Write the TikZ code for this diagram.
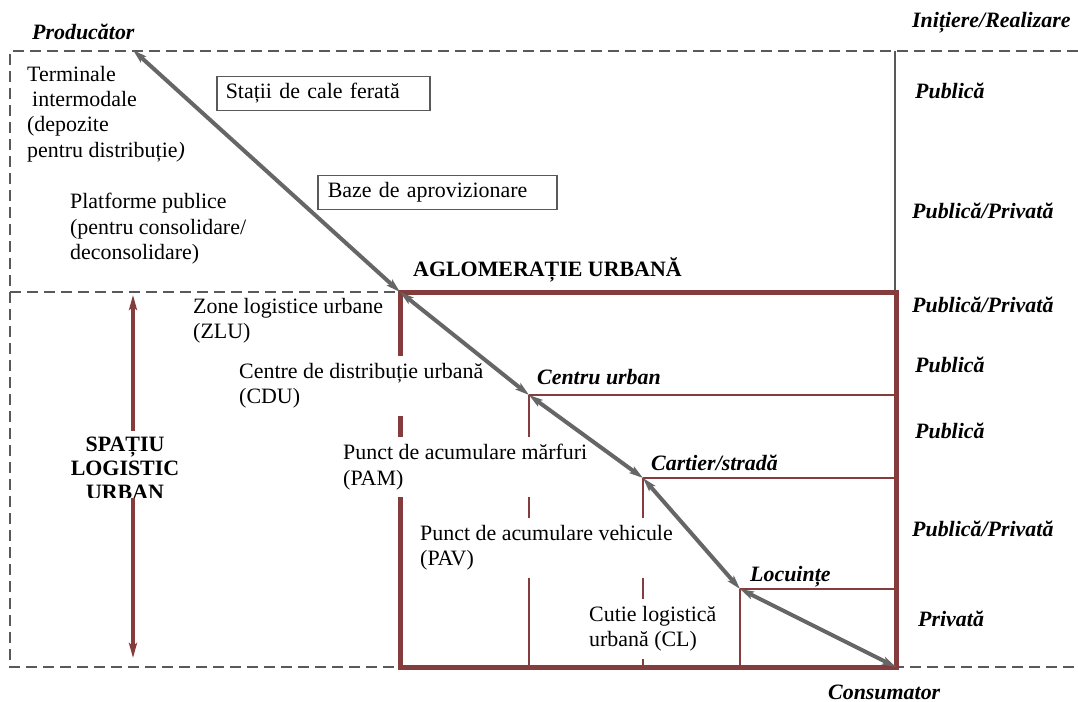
\documentclass[tikz,border=0pt]{standalone}
\usepackage{fontspec}
\setmainfont{Liberation Serif}
\usetikzlibrary{arrows.meta}

\definecolor{brick}{HTML}{843C3C}
\definecolor{dashgray}{HTML}{595959}
\definecolor{flowgray}{HTML}{666666}

\tikzset{
  txt/.style={font=\fontsize{22}{25.5}\selectfont, align=left, inner sep=2bp},
  cover/.style={txt, fill=white, inner ysep=7bp},
  tag/.style={font=\fontsize{22}{25.5}\selectfont\bfseries\itshape, inner sep=2bp},
  boxed/.style={txt, draw=dashgray, line width=1.5bp, inner xsep=9bp, minimum height=34bp},
  zone/.style={dashgray, line width=2.5bp, dash pattern=on 11bp off 6bp},
  flow/.style={flowgray, line width=4bp, {Stealth[length=14bp,width=8bp,inset=3bp]}-{Stealth[length=14bp,width=8bp,inset=3bp]}},
}

\begin{document}
\begin{tikzpicture}[x=1bp, y=-1bp]
  \useasboundingbox (0,0) rectangle (1078,702);

  % corners of the chain
  \coordinate (prodpt) at (133,50);
  \coordinate (ul) at (400,292);
  \coordinate (cu) at (529,395);
  \coordinate (cs) at (643,478);
  \coordinate (lc) at (740,589);
  \coordinate (cons) at (896,667);
  \coordinate (sptop) at (133,295);
  \coordinate (spbot) at (133,658);

  % dashed frame
  \draw[zone] (1078,51) -- (10,51) -- (10,667) -- (1078,667);
  \draw[zone] (10,292) -- (ul);
  \draw[dashgray, line width=2bp] (895,51) -- (895,292);

  % urban box
  \draw[brick, line width=5bp] (ul) rectangle (cons);
  \draw[brick, line width=2bp] (cu) -- (896,395) (cu) -- (529,667);
  \draw[brick, line width=2bp] (cs) -- (896,478) (cs) -- (643,667);
  \draw[brick, line width=2bp] (lc) -- (896,589) (lc) -- (740,667);

  % spatiu logistic urban
  \draw[brick, line width=4bp, {Stealth[length=15bp,width=8bp,inset=3bp]}-{Stealth[length=15bp,width=8bp,inset=3bp]}] (sptop) -- (spbot);
  \begin{scope}
    \clip (50,420) rectangle (220,497);
    \node[cover, align=center, font=\fontsize{22}{24}\selectfont\bfseries, inner ysep=6bp] (spatiu) at (125,468) {SPAȚIU\\LOGISTIC\\URBAN};
  \end{scope}

  % labels
  \node[tag, anchor=west] (prod) at (30,32) {Producător};
  \node[tag, anchor=west] (cons-lbl) at (826,692) {Consumator};
  \node[tag, anchor=west] (init) at (910,23) {Inițiere/Realizare};
  \node[tag, anchor=west] (r1) at (913,91) {Publică};
  \node[tag, anchor=west] (r2) at (910,211) {Publică/Privată};
  \node[tag, anchor=west] (r3) at (910,305) {Publică/Privată};
  \node[tag, anchor=west] (r4) at (913,365) {Publică};
  \node[tag, anchor=west] (r5) at (913,431) {Publică};
  \node[tag, anchor=west] (r6) at (910,529) {Publică/Privată};
  \node[tag, anchor=west] (r7) at (916,619) {Privată};

  \node[font=\fontsize{22}{25.5}\selectfont\bfseries, inner sep=2bp, anchor=west] (aglo) at (411,270) {AGLOMERAȚIE URBANĂ};
  \node[tag, anchor=west] (centru) at (535,377) {Centru urban};
  \node[tag, anchor=west] (cartier) at (649,463) {Cartier/stradă};
  \node[tag, anchor=west] (locuinte) at (748,577) {Locuințe};

  \node[txt, anchor=west] (terminale) at (25,114) {Terminale\\\hspace{5bp}intermodale\\(depozite\\pentru distribuție\textit{)}};
  \node[txt, anchor=west] (platforme) at (68,229) {Platforme publice\\(pentru consolidare/\\deconsolidare)};
  \node[boxed, anchor=west, text width=195bp] (statii) at (216,93.5) {Stații de cale ferată};
  \node[boxed, anchor=west, text width=219bp, inner xsep=10bp] (baze) at (317,192.5) {Baze de aprovizionare};

  \node[txt, anchor=west] (zlu) at (191,321) {Zone logistice urbane\\(ZLU)};
  \node[cover, anchor=west] (cdu) at (237,386) {Centre de distribuție urbană\\(CDU)};
  \node[cover, anchor=west] (pam) at (341,467) {Punct de acumulare mărfuri\\(PAM)};
  \node[cover, anchor=west] (pav) at (418,548) {Punct de acumulare vehicule\\(PAV)};
  \node[cover, anchor=west] (cl) at (587,629) {Cutie logistică\\urbană (CL)};

  % flows
  \draw[flow] (prodpt) -- (ul);
  \draw[flow] (ul) -- (cu);
  \draw[flow] (cu) -- (cs);
  \draw[flow] (cs) -- (lc);
  \draw[flow] (lc) -- (cons);
\end{tikzpicture}
\end{document}
